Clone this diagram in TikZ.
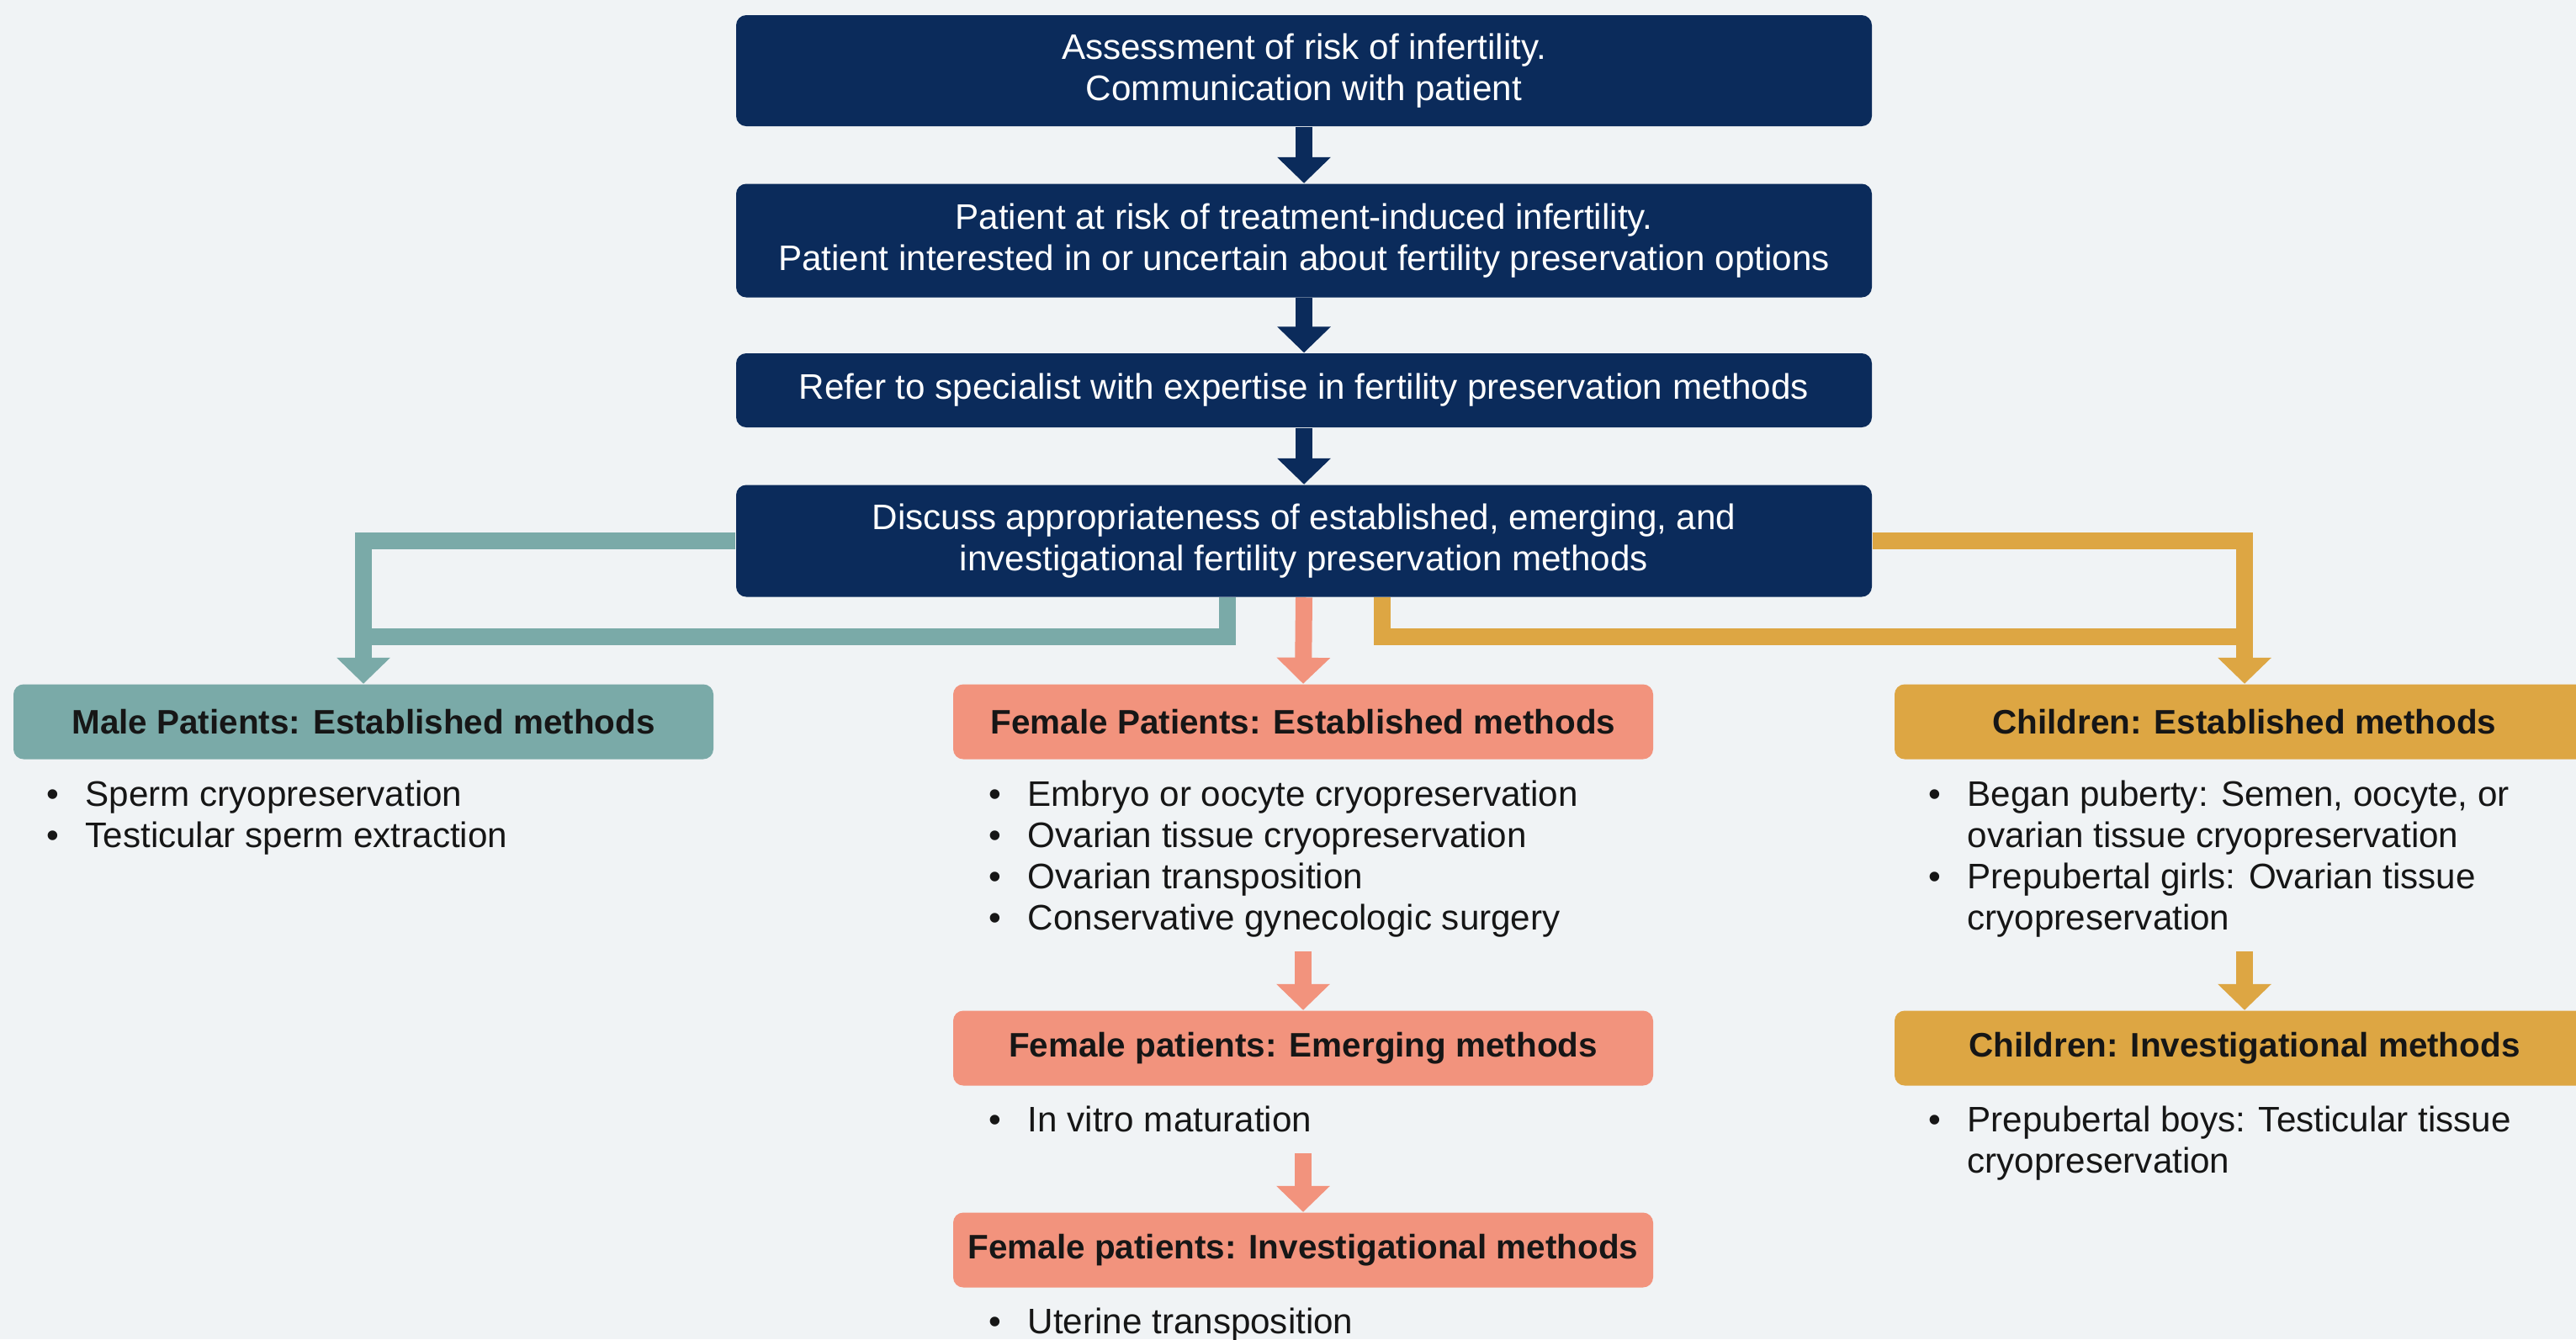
\documentclass[tikz,border=0pt]{standalone}
\usepackage{fontspec}
\setmainfont{Liberation Sans}
\usetikzlibrary{arrows.meta}
\definecolor{pagebg}{HTML}{F0F3F5}
\definecolor{navy}{HTML}{0B2B5B}
\definecolor{maleteal}{HTML}{7AAAA8}
\definecolor{femsalmon}{HTML}{F2937D}
\definecolor{kidgold}{HTML}{DDA643}
\definecolor{ink}{HTML}{161616}

\begin{document}
\begin{tikzpicture}[
					topbox/.style={rectangle,rounded corners=1.2mm,fill=navy,text=white,minimum width=13.5cm,inner sep=0pt,align=center,font=\fontsize{12}{13.9}\selectfont},
					headbox/.style={rectangle,rounded corners=1.2mm,minimum width=8.32cm,minimum height=0.89cm,inner sep=0pt,text=ink,font=\fontsize{11.5}{13.6}\selectfont\bfseries},
					blist/.style={anchor=north west,inner sep=0pt,text=ink,font=\fontsize{12}{13.9}\selectfont},
					flow/.style={line width=2mm,-{Triangle[width=6.2mm,length=3.1mm]}},
					bline/.style={line width=2mm}
					]
					\useasboundingbox (0,0) rectangle (30.62,-15.92);
					\fill[pagebg] (0,0) rectangle (30.62,-15.92);
					\node[topbox,minimum height=1.32cm] (as) at (15.50,-0.84) {Assessment of risk of infertility.\\Communication with patient};
					\node[topbox,minimum height=1.35cm] (rk) at (15.50,-2.86) {Patient at risk of treatment-induced infertility.\\Patient interested in or uncertain about fertility preservation options};
					\node[topbox,minimum height=0.88cm] (rf) at (15.50,-4.64) {Refer to specialist with expertise in fertility preservation methods};
					\node[topbox,minimum height=1.33cm] (ds) at (15.50,-6.43) {Discuss appropriateness of established, emerging, and\\investigational fertility preservation methods};
					\foreach \a/\b in {as/rk,rk/rf,rf/ds}{
						\draw[flow,navy] (\a.south) -- (\b.north);
					}
					\node[headbox,fill=maleteal] (ml) at (4.32,-8.58) {Male Patients: Established methods};
					\node[headbox,fill=femsalmon] (fe) at (15.49,-8.58) {Female Patients: Established methods};
					\node[headbox,fill=kidgold] (ch) at (26.68,-8.58) {Children: Established methods};
					\node[headbox,fill=femsalmon] (fm) at (15.49,-12.46) {Female patients: Emerging methods};
					\node[headbox,fill=femsalmon] (fi) at (15.49,-14.86) {Female patients: Investigational methods};
					\node[headbox,fill=kidgold] (ci) at (26.68,-12.46) {Children: Investigational methods};
					\draw[bline,maleteal] ([xshift=-0.91cm]ds.south) |- ([yshift=0.56cm]ml.north);
					\draw[flow,maleteal] (ds.west) -| (ml.north);
					\draw[bline,kidgold] ([xshift=0.93cm]ds.south) |- ([yshift=0.56cm]ch.north);
					\draw[flow,kidgold] (ds.east) -| (ch.north);
					\draw[flow,femsalmon] (ds.south) -- (fe.north);
					\node[blist] (mlist) at (0.55,-9.24) {\begin{tabular}{@{}p{0.46cm}@{}l@{}}
						•&Sperm cryopreservation\\
						•&Testicular sperm extraction
					\end{tabular}};
					\node[blist] (flist) at (11.75,-9.24) {\begin{tabular}{@{}p{0.46cm}@{}l@{}}
						•&Embryo or oocyte cryopreservation\\
						•&Ovarian tissue cryopreservation\\
						•&Ovarian transposition\\
						•&Conservative gynecologic surgery
					\end{tabular}};
					\node[blist] (clist) at (22.92,-9.24) {\begin{tabular}{@{}p{0.46cm}@{}l@{}}
						•&Began puberty: Semen, oocyte, or\\
						&ovarian tissue cryopreservation\\
						•&Prepubertal girls: Ovarian tissue\\
						&cryopreservation
					\end{tabular}};
					\node[blist] (mlst) at (11.75,-13.11) {\begin{tabular}{@{}p{0.46cm}@{}l@{}}
						•&In vitro maturation
					\end{tabular}};
					\node[blist] (ilist) at (11.75,-15.51) {\begin{tabular}{@{}p{0.46cm}@{}l@{}}
						•&Uterine transposition
					\end{tabular}};
					\node[blist] (cilist) at (22.92,-13.11) {\begin{tabular}{@{}p{0.46cm}@{}l@{}}
						•&Prepubertal boys: Testicular tissue\\
						&cryopreservation
					\end{tabular}};
					\draw[flow,femsalmon,shorten <=1mm] (fe.north |- flist.south) -- (fm.north);
					\draw[flow,femsalmon,shorten <=1mm] (fm.north |- mlst.south) -- (fi.north);
					\draw[flow,kidgold,shorten <=1mm] (ch.north |- clist.south) -- (ci.north);
				\end{tikzpicture}
\end{document}
